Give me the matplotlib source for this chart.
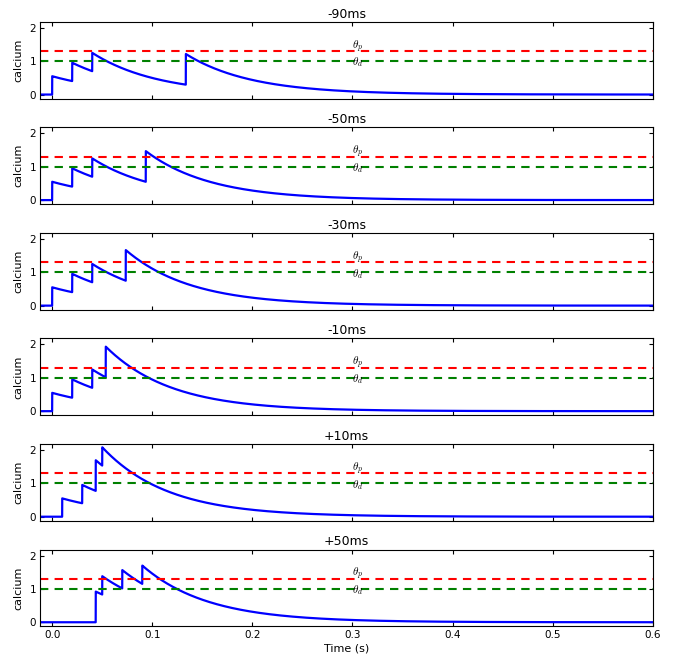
import numpy as np
import matplotlib
matplotlib.use("Agg")
import matplotlib.pyplot as plt

plt.rcParams['mathtext.fontset'] = 'cm'

# panel titles (post - pre timing)
titles = ['-90ms', '-50ms', '-30ms', '-10ms', '+10ms', '+50ms']

# spike times (s)
pre_times = [
    [0.0, 0.02, 0.04],
    [0.0, 0.02, 0.04],
    [0.0, 0.02, 0.04],
    [0.0, 0.02, 0.04],
    [0.01, 0.03, 0.05],
    [0.05, 0.07, 0.09],
]
post_times = [0.1335, 0.0935, 0.0735, 0.0535, 0.0435, 0.0435]

# calcium jump sizes and decay constant
pre_amp = 0.55
post_amp = 0.92
tau_ca = 0.065

theta_p = 1.3
theta_d = 1.0

t = np.arange(-0.012, 0.6, 0.0001)


def calcium(pre, post):
    c = np.zeros_like(t)
    for s in pre:
        c += np.where(t >= s, pre_amp * np.exp(-(t - s) / tau_ca), 0.0)
    c += np.where(t >= post, post_amp * np.exp(-(t - post) / tau_ca), 0.0)
    return c


fig, axes = plt.subplots(6, 1, sharex=True, figsize=(6.8, 6.62), dpi=100)
fig.subplots_adjust(left=0.059, right=0.960, top=0.967, bottom=0.054, hspace=0.376)

for ax, title, pre, post in zip(axes, titles, pre_times, post_times):
    ax.plot(t, calcium(pre, post), color='b', lw=1.6)
    ax.axhline(theta_p, color='r', ls='--', lw=1.5, dashes=(4, 3))
    ax.axhline(theta_d, color='g', ls='--', lw=1.5, dashes=(4, 3))
    ax.text(0.3, 1.44, r'$\theta_p$', fontsize=8, va='center', ha='left')
    ax.text(0.3, 0.96, r'$\theta_d$', fontsize=8, va='center', ha='left')
    ax.set_title(title, fontsize=9, pad=3)
    ax.set_ylabel('calcium', fontsize=8, labelpad=4)
    ax.set_ylim(-0.12, 2.18)
    ax.set_xlim(-0.012, 0.6)
    ax.set_yticks([0, 1, 2])
    ax.set_xticks(np.arange(0, 0.61, 0.1))
    ax.tick_params(direction='in', top=True, right=True, labelsize=7.5,
                   length=3, width=0.8, pad=3)

axes[-1].set_xlabel('Time (s)', fontsize=8, labelpad=2)

fig.savefig('out.png', dpi=100)
